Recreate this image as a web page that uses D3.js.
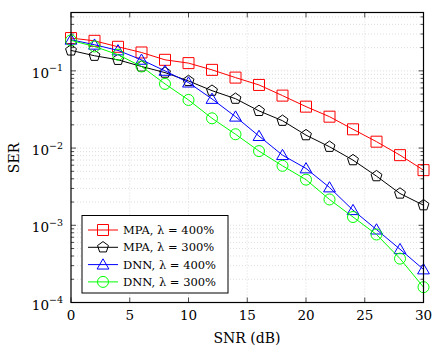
<!DOCTYPE HTML>
<html>
  <head>
    <title>SER vs SNR</title>
    <style>
      html, body { margin: 0; padding: 0; background: #fff; }
      text { font-family: "DejaVu Serif", "Liberation Serif", serif; }
    </style>
  </head>
  <body>
    <svg width="435" height="354"></svg>
    <script src="https://d3js.org/d3.v7.min.js"></script>
    <script>
      var snr = [0, 2, 4, 6, 8, 10, 12, 14, 16, 18, 20, 22, 24, 26, 28, 30];
      var mpa400 = [0.266, 0.245, 0.205, 0.173, 0.139, 0.126, 0.103, 0.0818, 0.0657, 0.0478, 0.0344, 0.0255, 0.0175, 0.0121, 0.0081, 0.00518];
      var mpa300 = [0.184, 0.157, 0.139, 0.114, 0.095, 0.074, 0.0554, 0.0436, 0.0303, 0.0226, 0.0147, 0.0104, 0.00698, 0.00433, 0.00258, 0.00182];
      var dnn400 = [0.253, 0.218, 0.184, 0.139, 0.100, 0.0705, 0.0433, 0.0255, 0.0143, 0.0081, 0.00545, 0.00309, 0.00157, 0.00088, 0.00049, 0.000268];
      var dnn300 = [0.248, 0.207, 0.162, 0.114, 0.0678, 0.042, 0.0243, 0.0151, 0.00914, 0.00589, 0.0039, 0.00216, 0.00128, 0.00076, 0.00037, 0.000158];
      var xTicks = [0, 5, 10, 15, 20, 25, 30];
      var yTicks = [-4, -3, -2, -1];

      var series = [
        { name: 'MPA, \u03bb = 400%', values: mpa400, color: '#ff0000', mark: 'square' },
        { name: 'MPA, \u03bb = 300%', values: mpa300, color: '#000000', mark: 'pentagon' },
        { name: 'DNN, \u03bb = 400%', values: dnn400, color: '#0000ff', mark: 'triangle' },
        { name: 'DNN, \u03bb = 300%', values: dnn300, color: '#00ff00', mark: 'circle' }
      ];

      var pLeft = 71, pRight = 423.5, pTop = 12.5, pBottom = 302.5;
      var svg = d3.select('svg');
      var x = d3.scaleLinear().domain([0, 30]).range([pLeft, pRight]);
      var y = d3.scaleLog().domain([1e-4, 0.57]).range([pBottom, pTop]);

      // minor y values
      var minor = [];
      for (var e = -4; e <= -1; e++) {
        for (var m = 2; m <= 9; m++) {
          var v = m * Math.pow(10, e);
          if (v < 0.57) minor.push(v);
        }
      }
      var major = yTicks.map(function(d) { return Math.pow(10, d); });

      var grid = svg.append('g')
        .attr('stroke', '#c8c8c8').attr('stroke-width', 0.6)
        .attr('stroke-dasharray', '1,2');
      grid.selectAll('line.h').data(minor.concat(major.slice(1))).enter().append('line')
        .attr('x1', pLeft).attr('x2', pRight)
        .attr('y1', function(d) { return y(d); }).attr('y2', function(d) { return y(d); });
      grid.selectAll('line.v').data(xTicks.slice(1, -1)).enter().append('line')
        .attr('y1', pTop).attr('y2', pBottom)
        .attr('x1', function(d) { return x(d); }).attr('x2', function(d) { return x(d); });

      // ticks (inside, both sides)
      var ticks = svg.append('g').attr('stroke', '#000').attr('stroke-width', 0.7);
      ticks.selectAll('line.xb').data(xTicks).enter().append('line')
        .attr('x1', function(d) { return x(d); }).attr('x2', function(d) { return x(d); })
        .attr('y1', pBottom).attr('y2', pBottom - 5);
      ticks.selectAll('line.xt').data(xTicks).enter().append('line')
        .attr('x1', function(d) { return x(d); }).attr('x2', function(d) { return x(d); })
        .attr('y1', pTop).attr('y2', pTop + 5);
      [pLeft, pRight].forEach(function(px) {
        var dir = px === pLeft ? 1 : -1;
        ticks.selectAll(null).data(major).enter().append('line')
          .attr('x1', px).attr('x2', px + dir * 5)
          .attr('y1', function(d) { return y(d); }).attr('y2', function(d) { return y(d); });
        ticks.selectAll(null).data(minor).enter().append('line')
          .attr('x1', px).attr('x2', px + dir * 3)
          .attr('y1', function(d) { return y(d); }).attr('y2', function(d) { return y(d); });
      });

      function markPath(type, s) {
        if (type === 'square') return d3.symbol().type(d3.symbolSquare).size(s * s)();
        if (type === 'circle') return d3.symbol().type(d3.symbolCircle).size(Math.PI * s * s / 4)();
        if (type === 'triangle') {
          var r = s * 0.62;
          return d3.line()([0, 1, 2].map(function(i) {
            var a = -Math.PI / 2 + i * 2 * Math.PI / 3;
            return [r * Math.cos(a), r * Math.sin(a) + r * 0.15];
          })) + 'Z';
        }
        var rp = s * 0.52;
        return d3.line()([0, 1, 2, 3, 4].map(function(i) {
          var a = -Math.PI / 2 + i * 2 * Math.PI / 5;
          return [rp * Math.cos(a), rp * Math.sin(a)];
        })) + 'Z';
      }

      var line = d3.line()
        .x(function(d) { return x(d[0]); })
        .y(function(d) { return y(d[1]); });

      series.forEach(function(s) {
        var pts = snr.map(function(v, i) { return [v, s.values[i]]; });
        var g = svg.append('g');
        g.append('path').attr('d', line(pts))
          .attr('fill', 'none').attr('stroke', s.color).attr('stroke-width', 1);
        g.selectAll('path.m').data(pts).enter().append('path')
          .attr('d', markPath(s.mark, 11))
          .attr('transform', function(d) { return 'translate(' + x(d[0]) + ',' + y(d[1]) + ')'; })
          .attr('fill', 'none').attr('stroke', s.color).attr('stroke-width', 1);
      });

      // axis box
      svg.append('rect').attr('x', pLeft).attr('y', pTop)
        .attr('width', pRight - pLeft).attr('height', pBottom - pTop)
        .attr('fill', 'none').attr('stroke', '#000').attr('stroke-width', 1.2);

      // tick labels
      svg.selectAll('text.xl').data(xTicks).enter().append('text')
        .attr('x', function(d) { return x(d); }).attr('y', 320)
        .attr('text-anchor', 'middle').attr('font-size', 13.5)
        .text(function(d) { return d; });
      var yl = svg.selectAll('text.yl').data(yTicks).enter().append('text')
        .attr('x', 63).attr('y', function(d) { return y(Math.pow(10, d)) + 7; })
        .attr('text-anchor', 'end').attr('font-size', 13.5);
      yl.append('tspan').text('10');
      yl.append('tspan').attr('dy', -6.5).attr('font-size', 9.5)
        .text(function(d) { return '\u2212' + (-d); });

      svg.append('text').attr('x', 247).attr('y', 343)
        .attr('text-anchor', 'middle').attr('font-size', 14).text('SNR (dB)');
      svg.append('text').attr('transform', 'translate(19,158) rotate(-90)')
        .attr('text-anchor', 'middle').attr('font-size', 14).text('SER');

      // legend
      var lx = 82, ly = 215.5, lw = 146, lh = 77.5;
      var leg = svg.append('g');
      leg.append('rect').attr('x', lx).attr('y', ly).attr('width', lw).attr('height', lh)
        .attr('fill', '#fff').attr('stroke', '#000').attr('stroke-width', 1);
      series.forEach(function(s, i) {
        var cy = 230 + i * 17.3;
        leg.append('line').attr('x1', 88).attr('x2', 118).attr('y1', cy).attr('y2', cy)
          .attr('stroke', s.color).attr('stroke-width', 1);
        leg.append('path').attr('d', markPath(s.mark, 11))
          .attr('transform', 'translate(103,' + cy + ')')
          .attr('fill', 'none').attr('stroke', s.color).attr('stroke-width', 1);
        leg.append('text').attr('x', 123).attr('y', cy + 4)
          .attr('font-size', 11.5).text(s.name);
      });
    </script>
  </body>
</html>
